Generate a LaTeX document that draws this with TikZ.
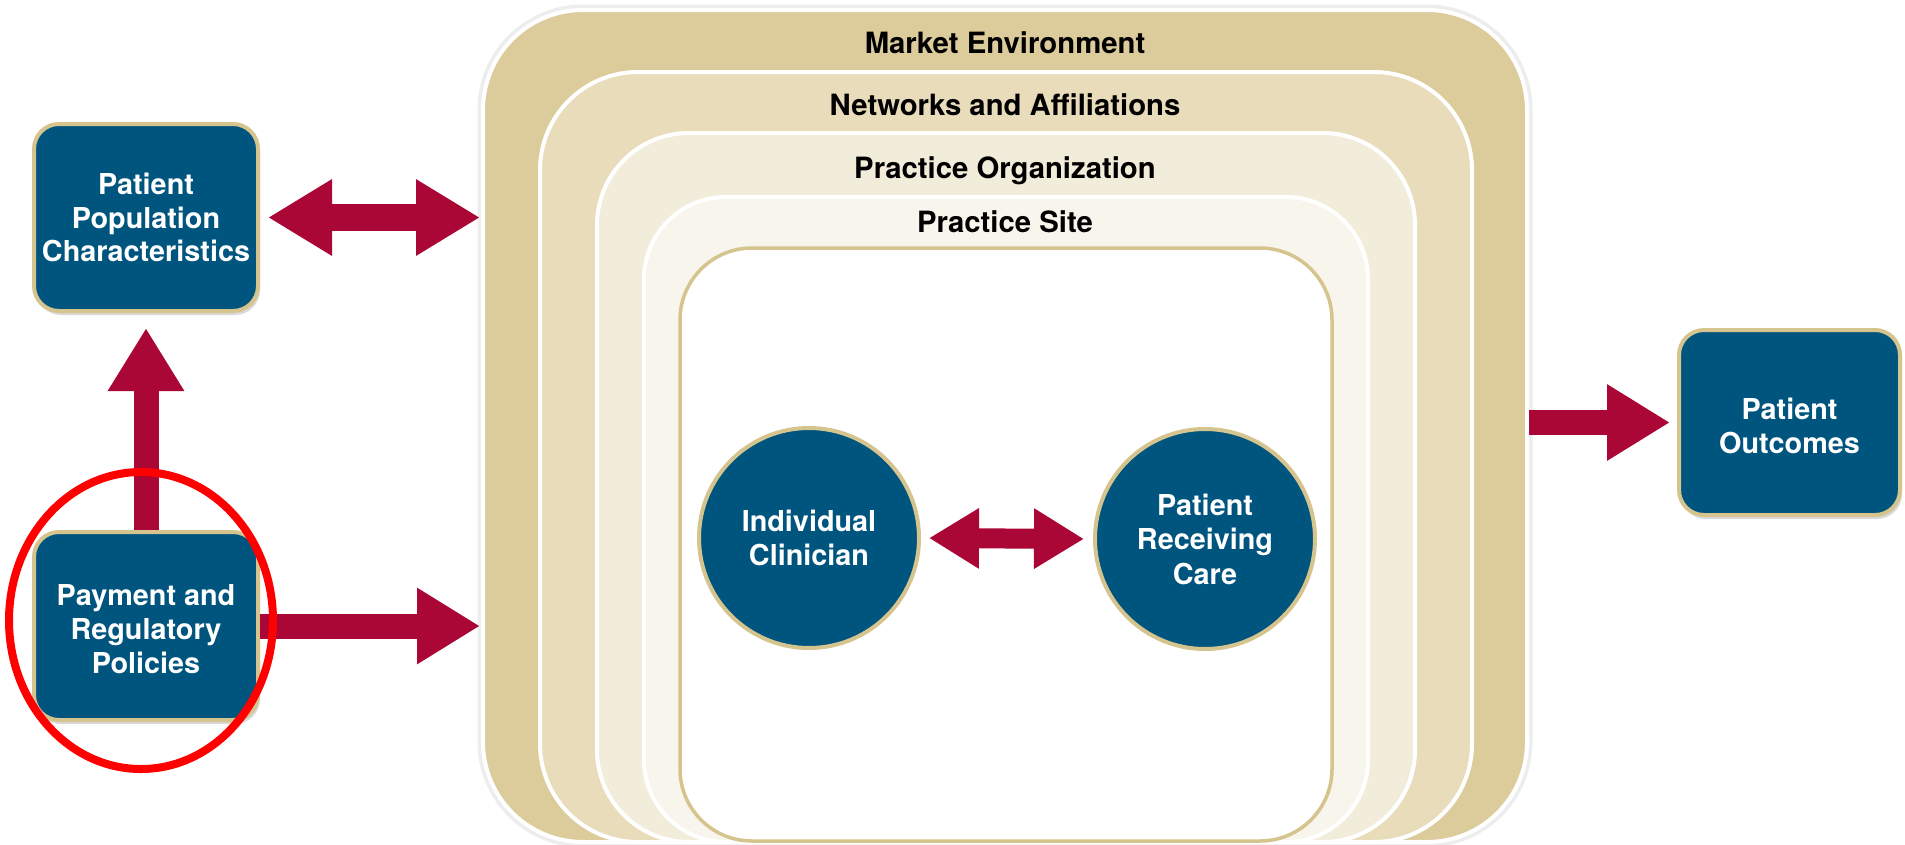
\documentclass[tikz,border=0pt]{standalone}
\usepackage{fontspec}
\setmainfont{TeX Gyre Heros}
\usetikzlibrary{arrows.meta,shapes.geometric,shadows}
\definecolor{mkt}{HTML}{DCCB9B}
\definecolor{net}{HTML}{E8DCBA}
\definecolor{porg}{HTML}{F2ECDA}
\definecolor{psite}{HTML}{F8F5EC}
\definecolor{tanline}{HTML}{D6C48E}
\definecolor{dblue}{HTML}{00557F}
\definecolor{arrred}{HTML}{AA0636}
\begin{document}
\begin{tikzpicture}[x=1pt,y=-1pt,
  layer/.style={rectangle, draw=white, line width=4pt, inner sep=0pt},
  bluebox/.style={rectangle, rounded corners=25pt, fill=dblue, draw=tanline, line width=4pt,
    inner sep=0pt, minimum width=224pt, minimum height=187pt,
    drop shadow={shadow xshift=2pt, shadow yshift=-4pt, opacity=0.15, fill=black}},
  bluetext/.style={text=white, font=\bfseries\fontsize{28.8}{33.8}\selectfont, align=center, inner sep=0pt},
  bluecirc/.style={circle, fill=dblue, draw=tanline, line width=4pt, minimum size=220pt,
    text=white, font=\bfseries\fontsize{28.8}{34.5}\selectfont, align=center, inner sep=0pt},
  ltitle/.style={font=\bfseries\fontsize{29.3}{34}\selectfont, text=black, anchor=base},
  bigarrow/.style={draw=arrred, line width=25pt, -{Triangle[length=63pt,width=72pt]}},
  dblarrow/.style={draw=arrred, line width=27pt,
    {Triangle[length=64pt,width=72pt]}-{Triangle[length=64pt,width=72pt]}},
  smallarrow/.style={draw=arrred, line width=20pt,
    {Triangle[length=50pt,width=57pt]}-{Triangle[length=50pt,width=57pt]}}
]
\useasboundingbox (0,0) rectangle (1905,844);
\fill[white] (0,0) rectangle (1905,844);

% nested layers
\node[layer, fill=mkt, rounded corners=100pt, minimum width=1044pt, minimum height=832pt,
  preaction={draw=black!7, line width=11pt}] (mkt) at (1005,426) {};
\node[layer, fill=net, rounded corners=98pt, minimum width=932pt, minimum height=770pt] (net) at (1006,457) {};
\node[layer, fill=porg, rounded corners=92pt, minimum width=818pt, minimum height=709pt] (porg) at (1006,487.5) {};
\node[layer, fill=psite, rounded corners=82pt, minimum width=724pt, minimum height=645pt] (psite) at (1006,519.5) {};
\node[rectangle, fill=white, draw=tanline, line width=3.5pt, inner sep=0pt, rounded corners=72pt,
  minimum width=652pt, minimum height=593pt] (inner) at (1006,544.5) {};

% layer titles
\node[ltitle] (tmkt) at (1005,53) {Market Environment};
\node[ltitle] (tnet) at (1005,115) {Networks and Affiliations};
\node[ltitle] (tporg) at (1005,178) {Practice Organization};
\node[ltitle] (tpsite) at (1005,232) {Practice Site};

% circles
\node[bluecirc] (ic) at (809,538) {Individual\\Clinician};
\node[bluecirc] (prc) at (1205,539) {Patient\\Receiving\\Care};

% side boxes
\node[bluebox] (ppc) at (146,217.5) {};
\node[bluetext] (ppct) at (146,217.5) {Patient\\Population\\Characteristics};
\node[bluebox, minimum height=188pt] (pay) at (146,626) {};
\node[bluetext] (payt) at (146,629) {Payment and\\Regulatory\\Policies};
\node[bluebox, minimum width=221pt, minimum height=185pt] (outc) at (1789.5,422.5) {};
\node[bluetext] (outct) at (1789.5,426) {Patient\\Outcomes};

% arrows
\draw[dblarrow, shorten <=8pt, shorten >=1pt] (ppc.east) -- (ppc.east -| mkt.west);
\draw[bigarrow, shorten >=15pt] (pay.north) -- (ppc.south);
\draw[bigarrow, shorten >=1pt] (pay.east) -- (pay.east -| mkt.west);
\draw[bigarrow, shorten >=7pt] (outc.west -| mkt.east) -- (outc.west);
\draw[smallarrow, shorten <=8pt, shorten >=9pt] (ic.east) -- (prc.west);

% highlight ellipse
\node[ellipse, draw=red, line width=8pt, inner sep=0pt, minimum width=264pt, minimum height=297pt] (hl) at (141,620.5) {};
\end{tikzpicture}
\end{document}
